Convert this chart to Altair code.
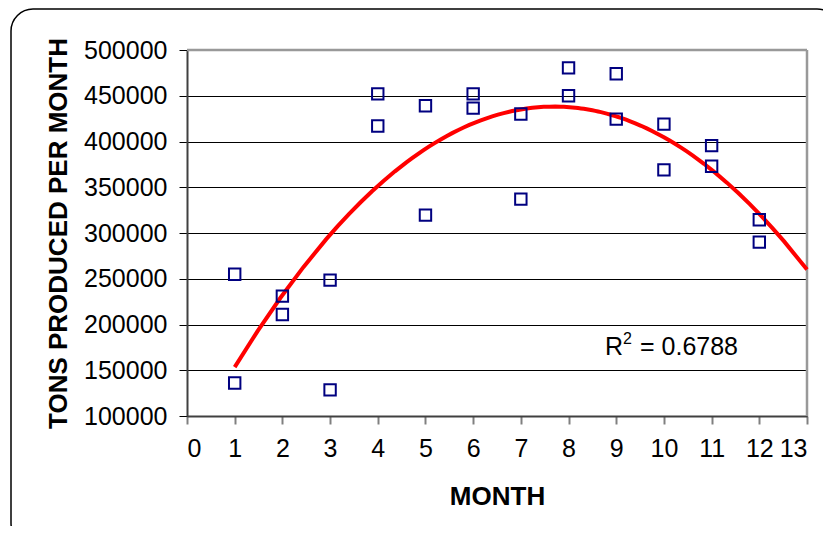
import altair as alt
import pandas as pd

months = [1, 1, 2, 2, 3, 3, 4, 4, 5, 5, 6, 6, 7, 7, 8, 8, 9, 9, 10, 10, 11, 11, 12, 12]
tons = [255000, 136000, 231000, 211000, 248500, 128500, 452000, 417000,
        439000, 319500, 452000, 436500, 430000, 337000, 480500, 450000,
        474000, 424500, 419000, 369000, 395500, 373000, 314500, 290000]
y_ticks = [100000, 150000, 200000, 250000, 300000, 350000, 400000, 450000, 500000]
x_ticks = list(range(0, 14))
r2_parts = ["R", "2", "= 0.6788"]

df = pd.DataFrame({"month": months, "tons": tons})
FONT = "Liberation Sans"
W, H = 620, 366

xs = alt.Scale(domain=[0, 13], nice=False)
ys = alt.Scale(domain=[100000, 500000], nice=False)

common = dict(labelFont=FONT, labelFontSize=25, labelColor="#000000",
              titleFont=FONT, titleFontSize=26, titleFontWeight="bold", titleColor="#000000")

base = alt.Chart(df)

points = base.mark_point(shape="square", filled=False, color="#000080",
                         strokeWidth=2, size=130, opacity=1).encode(
    x=alt.X("month:Q", scale=xs, title="MONTH",
            axis=alt.Axis(values=x_ticks, grid=False, tickSize=8, tickColor="#808080",
                          tickWidth=2, domainColor="#404040", domainWidth=2,
                          labelPadding=12, titlePadding=22, format="d", **common)),
    y=alt.Y("tons:Q", scale=ys, title="TONS PRODUCED PER MONTH",
            axis=alt.Axis(values=y_ticks, grid=True, gridColor="#000000", gridWidth=1.2,
                          tickSize=8, tickColor="#000000", domainColor="#404040",
                          domainWidth=2, labelPadding=12, titlePadding=12, format="d",
                          **common)),
)

trend = base.transform_regression(
    "month", "tons", method="poly", order=2, extent=[1, 13]
).mark_line(color="#ff0000", strokeWidth=4).encode(
    x=alt.X("month:Q", scale=xs),
    y=alt.Y("tons:Q", scale=ys),
)

frame_top = alt.Chart(pd.DataFrame({"a": [0]})).mark_rule(color="#999999", strokeWidth=2.5).encode(
    x=alt.value(0), x2=alt.value(W), y=alt.value(0))
frame_right = alt.Chart(pd.DataFrame({"a": [0]})).mark_rule(color="#999999", strokeWidth=2.5).encode(
    x=alt.value(W), y=alt.value(0), y2=alt.value(H))

r2_R = alt.Chart(pd.DataFrame({"t": [r2_parts[0]]})).mark_text(
    font=FONT, fontSize=25, color="#000000", align="left", baseline="alphabetic").encode(
    text="t:N", x=alt.value(418), y=alt.value(305))
r2_sup = alt.Chart(pd.DataFrame({"t": [r2_parts[1]]})).mark_text(
    font=FONT, fontSize=16, color="#000000", align="left", baseline="alphabetic").encode(
    text="t:N", x=alt.value(436), y=alt.value(294))
r2_rest = alt.Chart(pd.DataFrame({"t": [r2_parts[2]]})).mark_text(
    font=FONT, fontSize=25, color="#000000", align="left", baseline="alphabetic").encode(
    text="t:N", x=alt.value(453), y=alt.value(305))

border = alt.Chart(pd.DataFrame({"a": [0]})).mark_rect(
    cornerRadius=22, fill="white", fillOpacity=0, stroke="#000000", strokeWidth=1.5).encode(
    x=alt.value(-176), x2=alt.value(652), y=alt.value(-41), y2=alt.value(495))

chart = alt.layer(border, frame_top, frame_right, trend, points, r2_R, r2_sup, r2_rest).properties(
    width=W, height=H,
    background="white",
    autosize=alt.AutoSizeParams(type="none"),
    padding={"left": 179, "top": 42, "right": 16, "bottom": 110},
).configure_view(stroke=None)

chart.save("out.html", embed_options={"renderer": "svg", "actions": False})
